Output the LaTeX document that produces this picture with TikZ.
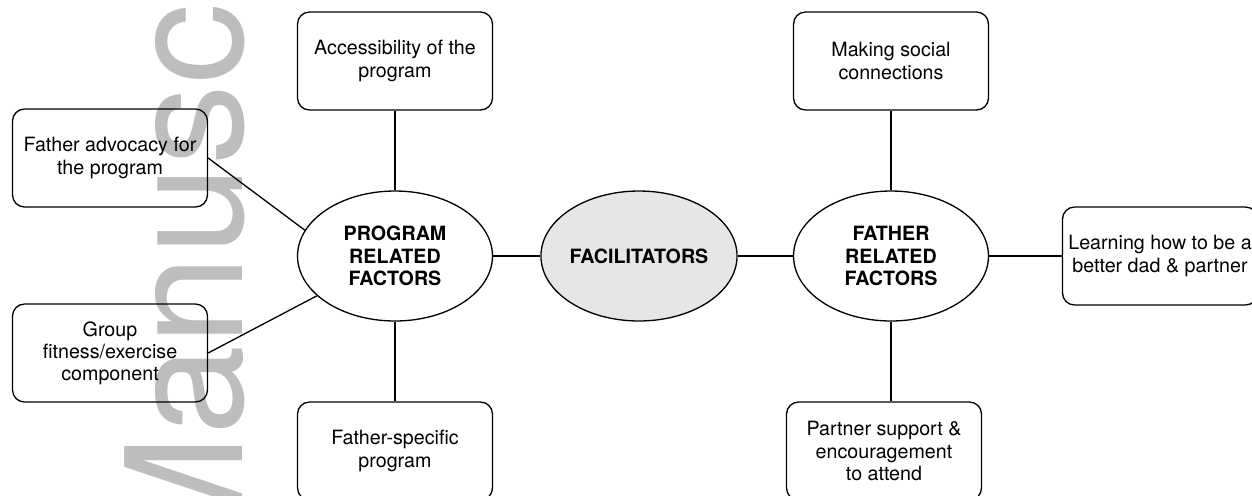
\documentclass[tikz,border=0pt]{standalone}
\usepackage{fontspec}
\setmainfont{TeX Gyre Heros}
\usepackage{tikz}
\usetikzlibrary{shapes,positioning}
\usepackage{xcolor}
\definecolor{hubgray}{HTML}{E6E6E6}
\definecolor{markgray}{HTML}{BDBDBD}

\begin{document}
\begin{tikzpicture}[
    x=0.02cm, y=-0.02cm,
    theme/.style={draw, rounded corners=0.24cm, line width=0.75pt, minimum width=3.9cm, minimum height=1.96cm, align=center, inner sep=2pt, font=\fontsize{11.2}{12.6}\selectfont},
    group/.style={draw, ellipse, line width=0.75pt, minimum width=3.9cm, minimum height=2.6cm, align=center, inner sep=0pt, font=\fontsize{11.2}{12.8}\selectfont\bfseries},
    link/.style={line width=0.75pt}
]
\useasboundingbox (0,0) rectangle (1252,495);
\clip (0,0) rectangle (1252,495);

% Watermark
\node[rotate=90, anchor=base west, inner sep=0pt, text=markgray, font=\fontsize{92}{92}\selectfont] (mark) at (242,570) {Manusc};

% Central node
\node[group, fill=hubgray] (facil) at (639,256) {FACILITATORS};

% Groups of factors
\node[group] (prog) at (395,256) {PROGRAM\\RELATED\\FACTORS};
\node[group] (father) at (891,256) {FATHER\\RELATED\\FACTORS};

% Program themes
\node[theme] (access) at (395,61) {Accessibility of the\\program};
\node[theme] (advoc) at (110,158) {Father advocacy for\\the program};
\node[theme] (fitness) at (110,353) {Group\\fitness/exercise\\component};
\node[theme] (fspec) at (395,451) {Father-specific\\program};

% Father themes
\node[theme] (social) at (891,61) {Making social\\connections};
\node[theme] (learn) at (1160,256) {Learning how to be a\\better dad \& partner};
\node[theme] (partner) at (884,451) {Partner support \&\\encouragement\\to attend};

% Links
\draw[link] (prog) -- (facil);
\draw[link] (facil) -- (father);
\draw[link] (prog) -- (access);
\draw[link] (prog) -- (fspec);
\draw[link] (advoc.east) -- (prog.164);
\draw[link] (fitness.east) -- (prog.207);
\draw[link] (father) -- (social);
\draw[link] (father) -- (learn);
\draw[link] (father.south) -- (father.south |- partner.north);

\end{tikzpicture}
\end{document}
